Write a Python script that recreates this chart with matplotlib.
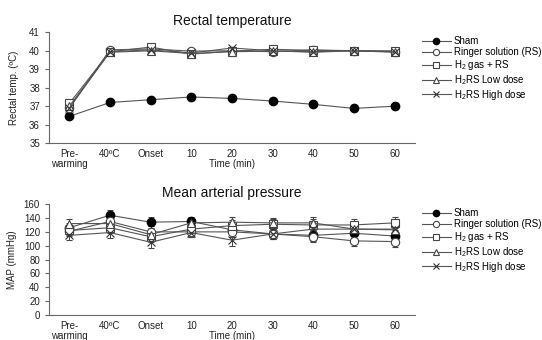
import matplotlib
matplotlib.use("Agg")
import matplotlib.pyplot as plt
import numpy as np

plt.rcParams["font.family"] = ["Liberation Sans", "DejaVu Sans"]
plt.rcParams["mathtext.fontset"] = "custom"
plt.rcParams["mathtext.rm"] = "Liberation Sans"
plt.rcParams["mathtext.it"] = "Liberation Sans:italic"

categories = ["Pre-\nwarming", "40ºC", "Onset", "10", "20", "30", "40", "50", "60"]
series_names = ["Sham", "Ringer solution (RS)", r"H$_2$ gas + RS", r"H$_2$RS Low dose", r"H$_2$RS High dose"]

temp_sham = [36.45, 37.2, 37.35, 37.5, 37.42, 37.28, 37.1, 36.88, 37.0]
temp_rs   = [36.9, 40.05, 40.1, 39.98, 40.0, 39.95, 40.05, 40.0, 39.95]
temp_h2   = [37.15, 39.95, 40.2, 39.82, 39.98, 40.08, 40.02, 40.0, 40.0]
temp_low  = [37.0, 39.92, 40.0, 39.85, 39.95, 39.98, 39.95, 40.0, 39.92]
temp_high = [36.9, 39.95, 40.05, 39.88, 40.15, 40.0, 39.92, 40.0, 39.95]

map_sham = [126, 144, 134, 135, 123, 117, 115, 118, 114]
map_rs   = [121, 135, 120, 120, 120, 117, 113, 107, 106]
map_h2   = [122, 126, 113, 124, 129, 131, 130, 130, 133]
map_low  = [132, 132, 116, 133, 134, 133, 133, 124, 123]
map_high = [115, 119, 105, 119, 108, 117, 124, 124, 124]
map_err  = [7, 8, 8, 7, 8, 7, 8, 8, 8]

styles = [
    dict(marker="o", mfc="black", mec="black", ms=6),
    dict(marker="o", mfc="white", mec="#444444", ms=6, mew=0.8),
    dict(marker="s", mfc="white", mec="#444444", ms=5.5, mew=0.8),
    dict(marker="^", mfc="white", mec="#444444", ms=6, mew=0.8),
    dict(marker="x", mfc="none", mec="#333333", ms=6, mew=0.8),
]

fs = 7
fig = plt.figure(figsize=(5.42, 3.40), dpi=100)
ax1 = fig.add_axes([0.0904, 0.579, 0.675, 0.326])
ax2 = fig.add_axes([0.0904, 0.0735, 0.675, 0.326])

x = np.arange(len(categories))
line_color = "#555555"

def style_ax(ax):
    for s in ["top", "right"]:
        ax.spines[s].set_visible(False)
    for s in ["left", "bottom"]:
        ax.spines[s].set_color("#666666")
        ax.spines[s].set_linewidth(0.8)
    ax.set_xlim(-0.5, len(categories) - 0.5)
    ax.set_xticks(x)
    ax.set_xticklabels(categories, fontsize=fs, color="#222222", linespacing=1.0)
    ax.tick_params(axis="x", length=0, pad=4)
    ax.tick_params(axis="y", length=3, width=0.8, color="#666666", labelsize=fs, labelcolor="#222222")
    ax.text(0.5, -0.14, "Time (min)", transform=ax.transAxes, ha="center", va="top",
            fontsize=fs, color="#222222")

temps = [temp_sham, temp_rs, temp_h2, temp_low, temp_high]
maps = [map_sham, map_rs, map_h2, map_low, map_high]

leg_kw = dict(loc="upper left", bbox_to_anchor=(1.01, 1.0), frameon=False,
              fontsize=fs, handlelength=2.9, labelspacing=0.1, handletextpad=0.35,
              borderaxespad=0, markerscale=0.75)

handles = []
for name, vals, st in zip(series_names, temps, styles):
    h, = ax1.plot(x, vals, color=line_color, lw=0.8, label=name, **st)
    handles.append(h)
style_ax(ax1)
ax1.set_ylim(35, 41)
ax1.set_yticks(range(35, 42))
ax1.set_ylabel("Rectal temp. (ºC)", fontsize=fs, color="#222222", labelpad=7)
ax1.set_title("Rectal temperature", fontsize=10, color="#111111", pad=5)
ax1.legend(handles=handles, **leg_kw)

handles2 = []
for name, vals, st in zip(series_names, maps, styles):
    h = ax2.errorbar(x, vals, yerr=map_err, color=line_color, lw=0.8, elinewidth=0.7,
                     capsize=2.2, capthick=0.7, ecolor="#444444", label=name, **st)
    handles2.append(h[0])
style_ax(ax2)
ax2.set_ylim(0, 160)
ax2.set_yticks(range(0, 161, 20))
ax2.set_ylabel("MAP (mmHg)", fontsize=fs, color="#222222", labelpad=5)
ax2.set_title("Mean arterial pressure", fontsize=10, color="#111111", pad=5)
ax2.legend(handles=handles2, labels=series_names, **leg_kw)

fig.savefig("out.png", dpi=100)
